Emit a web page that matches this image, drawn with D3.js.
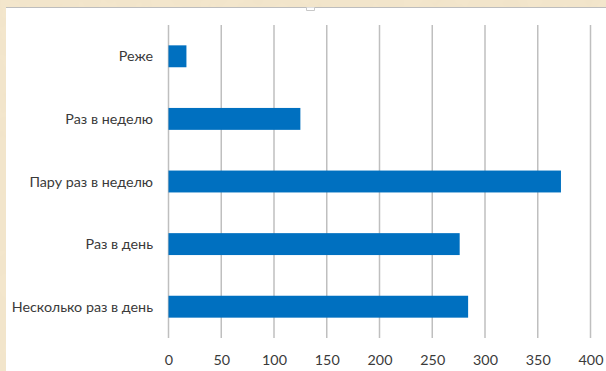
<!DOCTYPE html>
<html>
<head>
<meta charset="utf-8">
<script src="https://cdn.jsdelivr.net/npm/d3@7"></script>
<style>
  html, body { margin: 0; padding: 0; background: #f3e6cc; }
  svg { display: block; }
</style>
</head>
<body>
<svg id="chart" width="606" height="371"></svg>
<script>
// Answer categories (top to bottom) and response counts
const categories = ["Реже", "Раз в неделю", "Пару раз в неделю", "Раз в день", "Несколько раз в день"];
const counts = [17, 125, 372, 276, 284];
const tickValues = [0, 50, 100, 150, 200, 250, 300, 350, 400];

const svg = d3.select("#chart");
const W = 606, H = 371;

// Paper-coloured background with a light mottled texture
const defs = svg.append("defs");
const f = defs.append("filter").attr("id", "paper").attr("x", 0).attr("y", 0).attr("width", "100%").attr("height", "100%");
f.append("feTurbulence").attr("type", "fractalNoise").attr("baseFrequency", 0.04).attr("numOctaves", 3).attr("seed", 4).attr("result", "n");
f.append("feColorMatrix").attr("in", "n").attr("type", "matrix")
  .attr("values", "0 0 0 0 0.80  0 0 0 0 0.70  0 0 0 0 0.52  0 0 0 0.3 -0.08");
svg.append("rect").attr("width", W).attr("height", H).attr("fill", "#f3e6cc");
svg.append("rect").attr("width", W).attr("height", H).attr("filter", "url(#paper)");

// White chart panel
svg.append("rect").attr("x", 6).attr("y", 7).attr("width", W - 6).attr("height", H - 7).attr("fill", "#ffffff");
svg.append("line").attr("x1", 6).attr("x2", W).attr("y1", 7.5).attr("y2", 7.5).attr("stroke", "#bdbdbd").attr("stroke-width", 1);
// small handle on the top edge
svg.append("path").attr("d", "M306.5,7.5 V10.5 H314.5 V7.5").attr("fill", "#fff").attr("stroke", "#c8c8c8");

const x = d3.scaleLinear().domain([0, 400]).range([168.5, 590.5]);
const y = d3.scaleBand().domain(categories).range([25, 338]).paddingInner(0.65).paddingOuter(0.325);

const font = "Lato, 'Open Sans', sans-serif";

// Vertical gridlines
svg.append("g")
  .selectAll("line").data(tickValues).join("line")
  .attr("x1", d => x(d)).attr("x2", d => x(d))
  .attr("y1", 25).attr("y2", 338)
  .attr("stroke", "#bfbfbf").attr("stroke-width", 1.5);

// Bars
svg.append("g")
  .selectAll("rect").data(categories).join("rect")
  .attr("x", x(0))
  .attr("y", d => y(d))
  .attr("width", (d, i) => x(counts[i]) - x(0))
  .attr("height", y.bandwidth())
  .attr("fill", "#0070c0");

// Category labels
svg.append("g")
  .selectAll("text").data(categories).join("text")
  .attr("x", 153)
  .attr("y", d => y(d) + y.bandwidth() / 2)
  .attr("dy", "0.35em")
  .attr("text-anchor", "end")
  .attr("font-family", font).attr("font-size", 14.3)
  .attr("fill", "#3a3a3a")
  .text(d => d);

// Value axis labels
const xAxis = d3.axisBottom(x).tickValues(tickValues).tickSize(0).tickPadding(0);
const ax = svg.append("g").attr("transform", "translate(0,355)").call(xAxis);
ax.select(".domain").remove();
ax.selectAll("text").attr("font-family", font).attr("font-size", 14.3).attr("fill", "#3a3a3a");
</script>
</body>
</html>
